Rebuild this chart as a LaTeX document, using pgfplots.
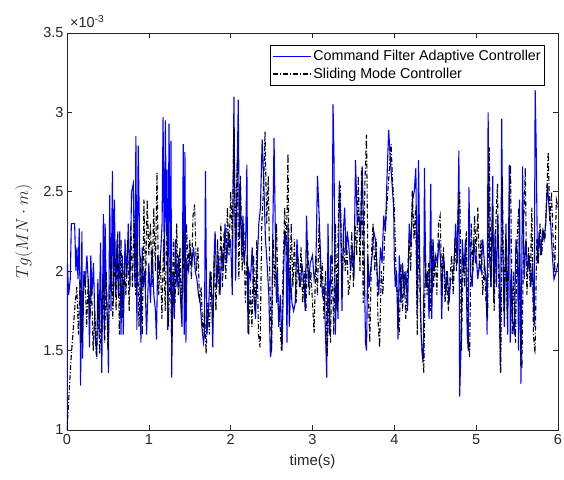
\documentclass[border=0pt]{standalone}
\usepackage{pgfplots}
\pgfplotsset{compat=1.18}
\usepackage{fontspec}
\setmainfont{Liberation Sans}
\definecolor{axgray}{rgb}{0.15,0.15,0.15}

\begin{document}
\begin{tikzpicture}
\path[use as bounding box] (-67pt,-49pt) rectangle (497pt,430pt);
\begin{axis}[
  name=ax,
  at={(0,0)}, anchor=south west,
  scale only axis, width=491pt, height=397pt,
  xmin=0, xmax=6, ymin=1, ymax=3.5,
  xtick={0,1,...,6}, ytick={1,1.5,...,3.5},
  axis line style={axgray, line width=0.6pt},
  tick style={axgray, line width=0.6pt},
  major tick length=5pt,
  tick align=inside,
  clip mode=individual,
  /pgf/number format/assume math mode=true,
  tick label style={font=\fontsize{14.5}{16}\selectfont, text=axgray},
  xticklabel style={yshift=-1pt},
  xlabel={time(s)},
  xlabel style={font=\fontsize{15}{17}\selectfont, text=axgray, yshift=-3pt},
  ylabel={$Tg(MN\cdot m)$},
  ylabel style={font=\fontsize{16}{18}\selectfont, text=axgray, yshift=4pt},
  legend style={at={(0.9735,0.97)}, anchor=north east, draw=black, line width=0.6pt,
    font=\fontsize{14.3}{16}\selectfont, inner xsep=2pt, inner ysep=3pt, row sep=2pt},
  legend cell align=left,
  legend image code/.code={\draw[#1] (0pt,0pt) -- (38pt,0pt);},
]
% Command filter adaptive controller
\addplot[color=blue, line width=1.1pt] coordinates {
(0,1.0) (0.005,2.05) (0.02,1.85) (0.04,1.95) (0.053,2.3) (0.093,2.3) (0.109,2.0) (0.121,2.15) (0.134,1.95) (0.15,2.27) (0.158,1.9) (0.166,1.28) (0.182,2.25) (0.19,1.45) (0.206,2.0) (0.223,1.9) (0.243,2.1) (0.263,1.9) (0.275,1.52) (0.291,2.1) (0.304,1.85) (0.324,2.05) (0.344,1.6) (0.364,1.46) (0.377,1.95) (0.393,1.6) (0.409,2.18) (0.425,1.36) (0.445,2.36) (0.457,1.6) (0.466,2.3) (0.478,1.9) (0.498,1.65) (0.506,1.36) (0.522,2.48) (0.538,1.75) (0.555,2.63) (0.567,1.8) (0.579,2.45) (0.595,1.85) (0.611,2.2) (0.628,1.85) (0.644,2.25) (0.66,1.6) (0.676,2.1) (0.688,1.6) (0.709,2.2) (0.729,1.95) (0.749,2.3) (0.769,1.9) (0.789,2.5) (0.81,2.55) (0.83,1.9) (0.842,2.85) (0.854,1.63) (0.87,2.79) (0.887,2.2) (0.903,1.55) (0.919,2.15) (0.931,1.9) (0.951,2.0) (0.972,1.6) (1.0,2.05)
(1.02,1.8) (1.04,2.15) (1.061,1.85) (1.081,1.75) (1.093,1.57) (1.109,2.1) (1.134,2.0) (1.162,2.3) (1.174,2.97) (1.19,2.0) (1.202,2.95) (1.215,2.25) (1.223,2.64) (1.231,1.63) (1.247,2.93) (1.263,1.85) (1.271,2.82) (1.279,1.33) (1.296,2.0) (1.312,1.7) (1.324,2.2) (1.344,1.9) (1.364,2.1) (1.385,1.85) (1.405,1.65) (1.421,2.8) (1.433,1.6) (1.441,2.75) (1.453,1.55) (1.466,2.05) (1.486,2.0) (1.506,2.15) (1.526,2.05) (1.547,2.15) (1.567,2.0) (1.587,1.95) (1.607,1.85) (1.628,1.8) (1.648,1.65) (1.668,1.55) (1.68,1.6) (1.692,2.63) (1.709,1.6) (1.729,1.75) (1.749,2.0) (1.769,1.85) (1.781,1.52) (1.798,2.1) (1.81,2.25) (1.83,1.9) (1.85,2.1) (1.87,1.85) (1.891,2.15) (1.911,2.0) (1.931,2.3) (1.951,2.05) (1.972,2.25) (1.992,2.15)
(2.0,2.2) (2.02,1.85) (2.04,3.1) (2.053,2.3) (2.061,1.94) (2.073,2.4) (2.093,3.08) (2.105,2.2) (2.117,2.55) (2.134,2.1) (2.15,2.35) (2.162,2.05) (2.182,2.15) (2.198,2.67) (2.211,1.61) (2.223,2.0) (2.243,1.95) (2.263,2.15) (2.283,1.85) (2.304,1.7) (2.324,2.05) (2.344,2.3) (2.364,2.4) (2.385,2.83) (2.405,2.55) (2.425,2.2) (2.445,2.05) (2.466,1.85) (2.486,1.46) (2.498,1.5) (2.514,2.2) (2.53,2.84) (2.547,2.2) (2.559,1.8) (2.571,2.0) (2.587,1.65) (2.607,1.85) (2.628,1.5) (2.648,2.0) (2.66,2.25) (2.676,2.2) (2.688,1.55) (2.7,2.3) (2.717,1.65) (2.729,2.0) (2.749,1.8) (2.769,1.75) (2.789,1.8) (2.81,2.2) (2.83,2.0) (2.85,1.9) (2.87,2.05) (2.891,1.95) (2.911,1.75) (2.927,2.35) (2.951,1.9) (2.972,2.05) (3.0,2.1)
(3.02,1.95) (3.04,2.0) (3.061,2.6) (3.081,2.35) (3.101,2.05) (3.121,1.85) (3.142,1.9) (3.162,1.55) (3.174,1.33) (3.19,2.3) (3.206,1.6) (3.223,2.1) (3.239,2.05) (3.251,3.05) (3.263,2.7) (3.279,1.6) (3.296,1.95) (3.312,1.7) (3.328,2.57) (3.344,2.35) (3.36,1.75) (3.377,2.25) (3.393,2.4) (3.409,2.1) (3.425,2.25) (3.445,2.15) (3.466,2.0) (3.486,2.15) (3.506,1.95) (3.526,2.7) (3.547,2.3) (3.567,2.35) (3.587,2.2) (3.607,2.66) (3.628,2.2) (3.648,1.55) (3.66,1.5) (3.676,2.1) (3.692,1.9) (3.709,2.0) (3.729,2.1) (3.749,2.25) (3.769,2.2) (3.789,2.0) (3.81,1.85) (3.83,2.15) (3.85,2.05) (3.87,2.35) (3.891,2.25) (3.911,2.6) (3.931,2.89) (3.951,2.7) (3.972,2.55) (3.992,2.4)
(4.0,2.05) (4.012,1.9) (4.028,2.0) (4.045,1.57) (4.061,2.1) (4.081,1.8) (4.101,2.05) (4.121,1.85) (4.142,2.0) (4.162,1.75) (4.182,2.3) (4.202,2.15) (4.223,2.45) (4.243,2.5) (4.263,2.65) (4.279,1.75) (4.296,2.7) (4.312,2.0) (4.328,1.6) (4.344,1.45) (4.356,1.45) (4.368,2.65) (4.385,1.9) (4.405,2.0) (4.425,1.7) (4.445,2.55) (4.457,1.7) (4.474,2.2) (4.486,2.0) (4.506,2.1) (4.526,2.05) (4.547,2.2) (4.567,2.05) (4.579,1.7) (4.595,2.1) (4.611,2.05) (4.628,1.85) (4.648,2.0) (4.668,1.8) (4.688,1.95) (4.709,1.95) (4.729,2.05) (4.749,2.3) (4.769,2.05) (4.789,2.76) (4.798,1.21) (4.814,1.5) (4.83,2.2) (4.85,2.0) (4.87,2.2) (4.891,1.6) (4.903,1.5) (4.911,2.53) (4.931,2.0) (4.951,1.9) (4.972,2.2) (4.992,2.05)
(5.0,2.1) (5.02,1.95) (5.04,2.05) (5.061,2.0) (5.081,2.2) (5.101,2.05) (5.121,1.95) (5.134,1.6) (5.146,3.0) (5.162,2.1) (5.182,1.9) (5.202,2.6) (5.215,1.8) (5.231,2.25) (5.247,1.9) (5.263,2.35) (5.283,1.95) (5.296,1.36) (5.312,2.96) (5.324,2.2) (5.344,1.65) (5.364,2.3) (5.385,1.6) (5.405,2.67) (5.417,1.55) (5.433,2.0) (5.445,1.7) (5.466,1.6) (5.486,2.2) (5.506,2.1) (5.518,1.5) (5.53,2.45) (5.547,1.29) (5.567,2.66) (5.587,1.95) (5.607,2.2) (5.628,2.0) (5.648,2.1) (5.668,1.9) (5.688,2.05) (5.709,1.65) (5.721,3.14) (5.733,2.8) (5.749,2.05) (5.769,2.25) (5.789,2.1) (5.81,2.25) (5.83,2.2) (5.85,2.3) (5.87,2.55) (5.891,2.4) (5.911,2.3) (5.931,2.1) (5.951,1.95) (5.98,2.0) (6.0,2.05)
};
\addlegendentry{Command Filter Adaptive Controller}

% Sliding mode controller
\addplot[color=black, line width=1.1pt, dash pattern=on 5pt off 2pt on 1pt off 2pt] coordinates {
(0,1.0) (0.05,1.45) (0.1,1.8) (0.12,1.9) (0.14,1.6) (0.16,1.95) (0.18,1.55) (0.2,1.85) (0.22,2.0) (0.24,1.65) (0.26,1.95) (0.28,1.7) (0.3,1.9) (0.32,1.5) (0.34,1.75) (0.36,1.45) (0.38,1.85) (0.4,1.48) (0.42,1.7) (0.44,1.95) (0.46,1.55) (0.48,2.0) (0.5,1.5) (0.52,1.85) (0.54,2.1) (0.56,1.7) (0.58,2.2) (0.6,1.75) (0.62,2.25) (0.64,1.6) (0.66,2.2) (0.68,1.7) (0.7,2.05) (0.72,1.85) (0.74,2.2) (0.76,1.75) (0.78,2.3) (0.8,1.9) (0.82,2.35) (0.84,1.85) (0.86,2.2) (0.88,1.65) (0.9,2.1) (0.92,1.6) (0.94,2.45) (0.96,1.9) (0.98,2.45) (1.0,2.1)
(1.02,2.3) (1.04,1.9) (1.06,2.4) (1.08,2.0) (1.1,2.62) (1.12,1.85) (1.14,2.1) (1.16,1.7) (1.18,2.2) (1.2,1.75) (1.22,2.3) (1.24,1.65) (1.26,2.1) (1.28,1.55) (1.3,2.2) (1.32,1.8) (1.34,2.3) (1.36,1.85) (1.38,2.15) (1.4,1.7) (1.42,2.25) (1.44,1.8) (1.46,2.3) (1.48,2.0) (1.5,2.2) (1.52,1.95) (1.54,2.35) (1.56,2.42) (1.58,2.0) (1.6,2.15) (1.62,1.8) (1.64,1.9) (1.66,1.6) (1.68,1.75) (1.7,1.48) (1.72,1.8) (1.74,1.6) (1.76,2.0) (1.78,1.65) (1.8,2.1) (1.82,1.75) (1.84,2.2) (1.86,1.85) (1.88,2.3) (1.9,1.9) (1.92,2.25) (1.94,1.95) (1.96,2.4) (1.98,2.1) (2.0,2.5)
(2.02,2.2) (2.04,2.9) (2.06,2.1) (2.08,2.7) (2.1,1.95) (2.12,2.6) (2.14,2.0) (2.16,2.3) (2.18,1.8) (2.2,2.1) (2.22,1.6) (2.24,1.9) (2.26,1.65) (2.28,2.1) (2.3,1.75) (2.32,2.2) (2.34,1.6) (2.36,1.52) (2.38,2.3) (2.4,2.5) (2.42,2.88) (2.44,2.3) (2.46,2.6) (2.48,1.9) (2.5,1.5) (2.52,2.2) (2.54,1.9) (2.56,2.3) (2.58,1.8) (2.6,1.7) (2.62,1.5) (2.64,2.0) (2.66,2.4) (2.68,2.1) (2.7,2.74) (2.72,1.7) (2.74,2.3) (2.76,1.9) (2.78,2.2) (2.8,1.8) (2.82,2.1) (2.84,1.9) (2.86,2.15) (2.88,1.8) (2.9,2.0) (2.92,1.75) (2.94,2.2) (2.96,1.85) (2.98,2.0) (3.0,1.8)
(3.02,1.61) (3.04,2.1) (3.06,1.85) (3.08,2.3) (3.1,1.9) (3.12,2.05) (3.14,1.7) (3.16,2.0) (3.18,1.46) (3.2,1.9) (3.22,1.55) (3.24,2.1) (3.26,1.6) (3.28,2.3) (3.3,1.75) (3.32,2.45) (3.34,2.54) (3.36,1.9) (3.38,2.2) (3.4,2.0) (3.42,2.15) (3.44,1.85) (3.46,1.95) (3.48,2.25) (3.5,1.9) (3.52,2.3) (3.54,2.1) (3.56,2.6) (3.58,2.0) (3.6,2.65) (3.62,1.8) (3.64,2.55) (3.66,2.86) (3.68,1.9) (3.7,1.55) (3.72,2.1) (3.74,2.3) (3.76,2.0) (3.78,2.2) (3.8,1.7) (3.82,1.52) (3.84,2.0) (3.86,1.85) (3.88,2.2) (3.9,2.35) (3.92,2.5) (3.94,2.65) (3.96,2.8) (3.98,2.55) (4.0,2.4)
(4.02,2.0) (4.04,1.8) (4.06,1.6) (4.08,2.05) (4.1,1.75) (4.12,2.0) (4.14,1.7) (4.16,1.95) (4.18,2.2) (4.2,2.0) (4.22,2.51) (4.24,2.2) (4.26,2.4) (4.28,1.6) (4.3,2.3) (4.32,1.7) (4.34,1.5) (4.36,1.36) (4.38,2.1) (4.4,1.85) (4.42,2.05) (4.44,1.75) (4.46,2.2) (4.48,1.9) (4.5,2.1) (4.52,1.85) (4.54,2.3) (4.56,2.35) (4.58,1.9) (4.6,2.15) (4.62,1.8) (4.64,2.0) (4.66,1.75) (4.68,1.95) (4.7,2.1) (4.72,1.85) (4.74,2.2) (4.76,2.0) (4.78,2.4) (4.8,2.5) (4.82,1.5) (4.84,2.1) (4.86,1.9) (4.88,2.25) (4.9,1.6) (4.92,1.46) (4.94,2.3) (4.96,2.0) (4.98,2.35) (5.0,2.1)
(5.02,2.4) (5.04,2.0) (5.06,2.2) (5.08,1.85) (5.1,2.05) (5.12,1.8) (5.14,1.71) (5.16,2.78) (5.18,1.9) (5.2,2.4) (5.22,1.75) (5.24,2.3) (5.26,2.55) (5.28,1.8) (5.3,1.36) (5.32,2.6) (5.34,1.75) (5.36,2.2) (5.38,1.7) (5.4,2.3) (5.42,2.67) (5.44,1.6) (5.46,2.0) (5.48,1.55) (5.5,2.2) (5.52,2.4) (5.54,1.6) (5.56,1.39) (5.58,2.3) (5.6,2.65) (5.62,1.85) (5.64,2.15) (5.66,1.9) (5.68,2.4) (5.7,1.6) (5.72,1.48) (5.74,2.2) (5.76,2.05) (5.78,2.3) (5.8,2.1) (5.82,2.25) (5.84,2.2) (5.86,2.45) (5.88,2.75) (5.9,2.3) (5.92,2.5) (5.94,2.2) (5.96,2.0) (5.98,2.45) (6.0,2.4)
};
\addlegendentry{Sliding Mode Controller}
\end{axis}
\node[anchor=south west, font=\fontsize{14.5}{16}\selectfont, text=axgray, inner sep=0pt]
  at ([xshift=3pt,yshift=5pt]ax.north west) {×10\textsuperscript{-3}};
\end{tikzpicture}
\end{document}
